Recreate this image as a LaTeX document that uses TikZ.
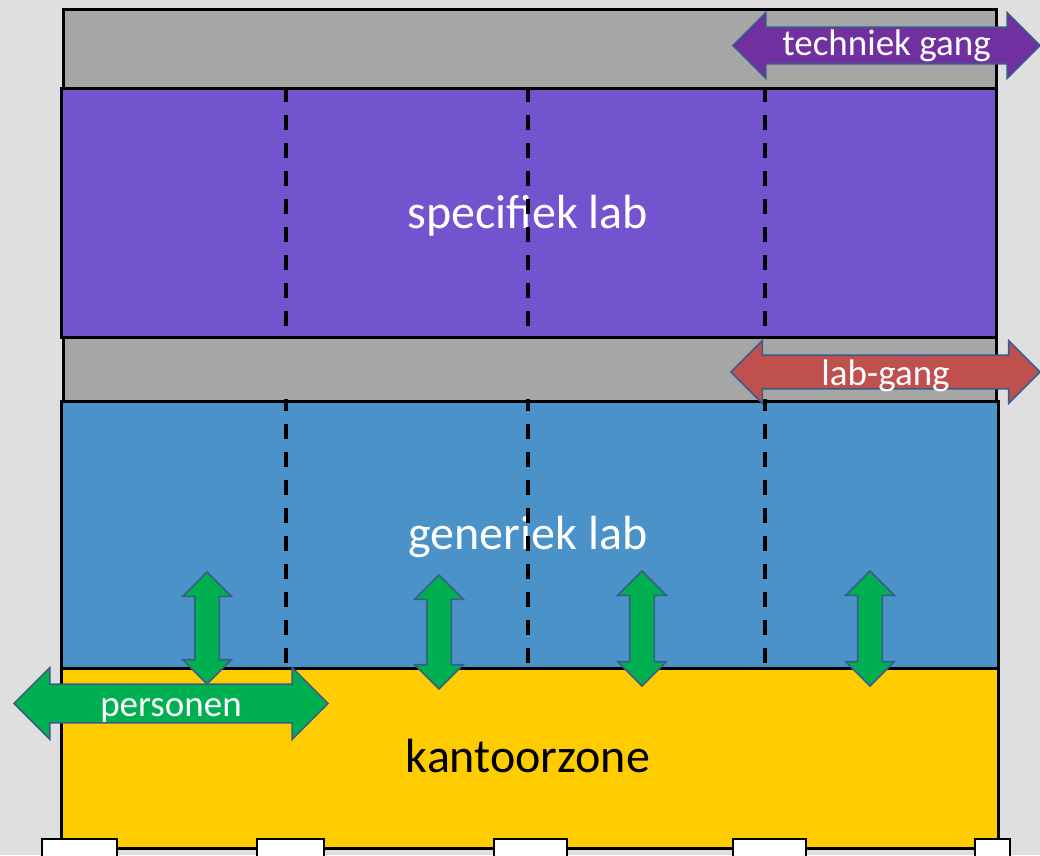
\documentclass[tikz,border=0pt]{standalone}
\usepackage{xcolor}
\definecolor{pagegray}{RGB}{223, 223, 223}
\definecolor{ganggray}{RGB}{166, 166, 166}
\definecolor{speclabpurple}{RGB}{116, 84, 206}
\definecolor{genlabblue}{RGB}{74, 146, 200}
\definecolor{officeyellow}{RGB}{255, 204, 0}
\definecolor{techpurple}{RGB}{112, 48, 160}
\definecolor{labred}{RGB}{192, 80, 77}
\definecolor{flowgreen}{RGB}{0, 176, 80}
\definecolor{arrowedge}{RGB}{56, 93, 138}
\usepackage{fontspec}
\setmainfont{Carlito}
\usepackage{tikz}
\usetikzlibrary{shapes,arrows,positioning,calc}

\begin{document}
\begin{tikzpicture}[x=1pt, y=-1pt,
    band/.style={rectangle, draw=black, line width=2.8pt, anchor=north west, inner sep=0pt},
    bigtext/.style={font=\fontsize{48}{56}\selectfont, anchor=base},
    gangarrow/.style={double arrow, draw=arrowedge, line width=1.6pt, text=white,
        inner xsep=0pt, inner ysep=0pt, font=\fontsize{37}{44}\selectfont},
    liftarrow/.style={double arrow, rotate=90, draw=arrowedge, line width=1.6pt, fill=flowgreen,
        inner xsep=0pt, inner ysep=11.5pt, text height=0pt, text depth=0pt, double arrow head extend=12pt},
    divider/.style={black, line width=4pt, dash pattern=on 15pt off 13pt}]
    \fill[pagegray] (0,0) rectangle (1040,855);
    \useasboundingbox (0,0) rectangle (1040,855);

    % zones
    \node[band, fill=ganggray, minimum width=933pt, minimum height=79pt] (techzone) at (62,8) {};
    \node[band, fill=speclabpurple, minimum width=935pt, minimum height=249pt] (speclab) at (60,87) {};
    \node[band, fill=ganggray, minimum width=933pt, minimum height=64pt] (labzone) at (62,336) {};
    \node[band, fill=genlabblue, minimum width=937pt, minimum height=267pt] (genlab) at (60,400) {};
    \node[band, fill=officeyellow, minimum width=937pt, minimum height=180pt] (office) at (60,667) {};

    \node[bigtext, text=white] (speclabel) at (528,228) {specifiek lab};
    \node[bigtext, text=white] (genlabel) at (528,549) {generiek lab};
    \node[bigtext, text=black] (officelabel) at (528,772) {kantoorzone};

    % module grid
    \foreach \x in {286,528,765} {
        \draw[divider] (\x,87) -- (\x,327);
        \draw[divider, dash phase=3pt] (\x,399) -- (\x,663);
    }

    % columns under the facade
    \foreach \a/\b in {42/117, 257/324, 494/567, 733/806, 975/1010}
        \draw[black, line width=2.5pt, fill=white] (\a,839) rectangle (\b,860);

    % flows
    \node[gangarrow, fill=techpurple, minimum height=307pt, text height=27pt, text depth=8pt,
        double arrow head extend=14.5pt] (techarrow) at (886.5,45.5) {techniek gang};
    \node[gangarrow, fill=labred, minimum height=309pt, text height=29pt, text depth=3pt,
        double arrow head extend=14.5pt] (labarrow) at (885.5,372) {lab-gang};
    \node[gangarrow, fill=flowgreen, minimum height=314pt, text height=31pt, text depth=6pt,
        double arrow head extend=16.5pt] (personarrow) at (171,703.5) {personen};

    \node[liftarrow, minimum height=112pt] (lift1) at (207,628) {};
    \node[liftarrow, minimum height=114pt] (lift2) at (439,632) {};
    \node[liftarrow, minimum height=115pt] (lift3) at (642,628.5) {};
    \node[liftarrow, minimum height=115pt] (lift4) at (870,628.5) {};
\end{tikzpicture}
\end{document}
